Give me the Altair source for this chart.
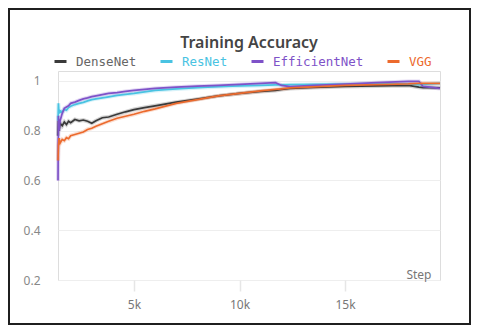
import altair as alt
import pandas as pd

steps = [1400, 1420, 1450, 1500, 1600, 1700, 1800, 1900, 2000, 2200, 2400, 2600,
         2800, 3000, 3200, 3500, 3800, 4200, 4600, 5000, 5500, 6000, 7000, 8000,
         9000, 10000, 11000, 11700, 12000, 12400, 13500, 15000, 16500, 18000,
         18500, 18700, 19000, 19500]

densenet = [0.78, 0.84, 0.80, 0.83, 0.82, 0.835, 0.825, 0.838, 0.832, 0.845, 0.84, 0.843,
            0.838, 0.83, 0.84, 0.852, 0.855, 0.866, 0.876, 0.885, 0.893, 0.9, 0.915, 0.927,
            0.94, 0.95, 0.958, 0.962, 0.966, 0.97, 0.974, 0.978, 0.98, 0.982,
            0.975, 0.973, 0.973, 0.972]
resnet = [0.84, 0.91, 0.87, 0.88, 0.875, 0.885, 0.882, 0.893, 0.898, 0.905, 0.91, 0.914,
          0.92, 0.925, 0.928, 0.932, 0.936, 0.942, 0.946, 0.95, 0.956, 0.962, 0.968, 0.973,
          0.977, 0.98, 0.982, 0.984, 0.984, 0.985, 0.986, 0.987, 0.988, 0.988,
          0.985, 0.986, 0.988, 0.99]
efficientnet = [0.60, 0.86, 0.80, 0.84, 0.87, 0.89, 0.895, 0.90, 0.91, 0.915, 0.922, 0.928,
                0.932, 0.937, 0.94, 0.945, 0.95, 0.953, 0.958, 0.962, 0.966, 0.97, 0.975, 0.979,
                0.982, 0.986, 0.99, 0.993, 0.982, 0.977, 0.982, 0.987, 0.993, 0.998,
                0.998, 0.978, 0.975, 0.97]
vgg = [0.68, 0.74, 0.77, 0.75, 0.765, 0.76, 0.772, 0.768, 0.78, 0.785, 0.79, 0.795,
       0.805, 0.81, 0.818, 0.828, 0.838, 0.85, 0.858, 0.866, 0.878, 0.888, 0.91, 0.925,
       0.94, 0.95, 0.96, 0.966, 0.968, 0.972, 0.976, 0.982, 0.985, 0.988,
       0.99, 0.99, 0.99, 0.99]

series_names = ["DenseNet", "ResNet", "EfficientNet", "VGG"]
series_colors = ["#3a3a3a", "#49c3e2", "#7e52c8", "#ec6a2d"]
label_colors = ["#666666", "#49c3e2", "#7e52c8", "#ec6a2d"]
x_ticks = [5000, 10000, 15000]
y_ticks = [0.2, 0.4, 0.6, 0.8, 1.0]

rows = []
for i, (name, vals) in enumerate(zip(series_names, [densenet, resnet, efficientnet, vgg])):
    for s, v in zip(steps, vals):
        rows.append({"Step": s, "value": v, "model": name, "order": i})
df = pd.DataFrame(rows)

label_expr = " : ".join(
    [f"datum.value === '{n}' ? '{c}'" for n, c in zip(series_names, label_colors)]
) + " : '#666666'"

color = alt.Color(
    "model:N",
    scale=alt.Scale(domain=series_names, range=series_colors),
    legend=alt.Legend(
        title=None, orient="none", direction="horizontal",
        legendX=-5, legendY=-17,
        symbolType="stroke", symbolSize=144, symbolStrokeWidth=3, symbolOpacity=1,
        labelFont="DejaVu Sans Mono", labelFontSize=12.5, labelOffset=8,
        columnPadding=17,
        labelColor=alt.ExprRef(label_expr),
    ),
)

x = alt.X(
    "Step:Q",
    scale=alt.Scale(domain=[1400, 19500], nice=False, zero=False),
    axis=alt.Axis(
        values=x_ticks, labelExpr="datum.value / 1000 + 'k'", grid=False, domain=False,
        tickColor="#e6e6e6", tickSize=11, tickWidth=1.5, labelPadding=8,
        labelColor="#777777", labelFont="Noto Sans", labelFontSize=12,
        title="Step", titleAnchor="end", titleAlign="right", titleBaseline="middle",
        titleX=373, titleY=-6, titleColor="#777777", titleFont="Noto Sans",
        titleFontSize=12, titleFontWeight="normal",
    ),
)
y = alt.Y(
    "value:Q",
    scale=alt.Scale(domain=[0.2, 1.04], nice=False, zero=False),
    axis=alt.Axis(
        values=y_ticks, format="~g", title=None, domain=False, ticks=False,
        gridColor="#eeeeee", gridWidth=1.2, labelPadding=18,
        labelColor="#888888", labelFont="Noto Sans", labelFontSize=12,
    ),
)

halo = alt.Chart(df).mark_line(strokeWidth=4, opacity=0.22).encode(
    x=x, y=y, color=color, order="Step:Q",
)
lines = alt.Chart(df).mark_line(strokeWidth=1.7).encode(
    x=x, y=y, color=color, order="Step:Q",
)
border = alt.Chart(df).mark_rect(fill=None, stroke="#1f1f1f", strokeWidth=2, clip=False).encode(
    x=alt.value(-49), x2=alt.value(412), y=alt.value(-62), y2=alt.value(253),
)

chart = alt.layer(halo, lines, border).properties(
    width=382, height=209,
    title=alt.Title("Training Accuracy", font="Noto Sans", fontSize=16, fontWeight=600,
                    color="#444444", anchor="middle", offset=-43),
    autosize=alt.AutoSizeParams(type="none"),
    padding={"left": 50, "top": 63, "right": 32, "bottom": 45},
).configure_view(strokeOpacity=0, strokeWidth=0).configure(background="white")

chart.save("out.html", embed_options={"renderer": "svg", "actions": False})
